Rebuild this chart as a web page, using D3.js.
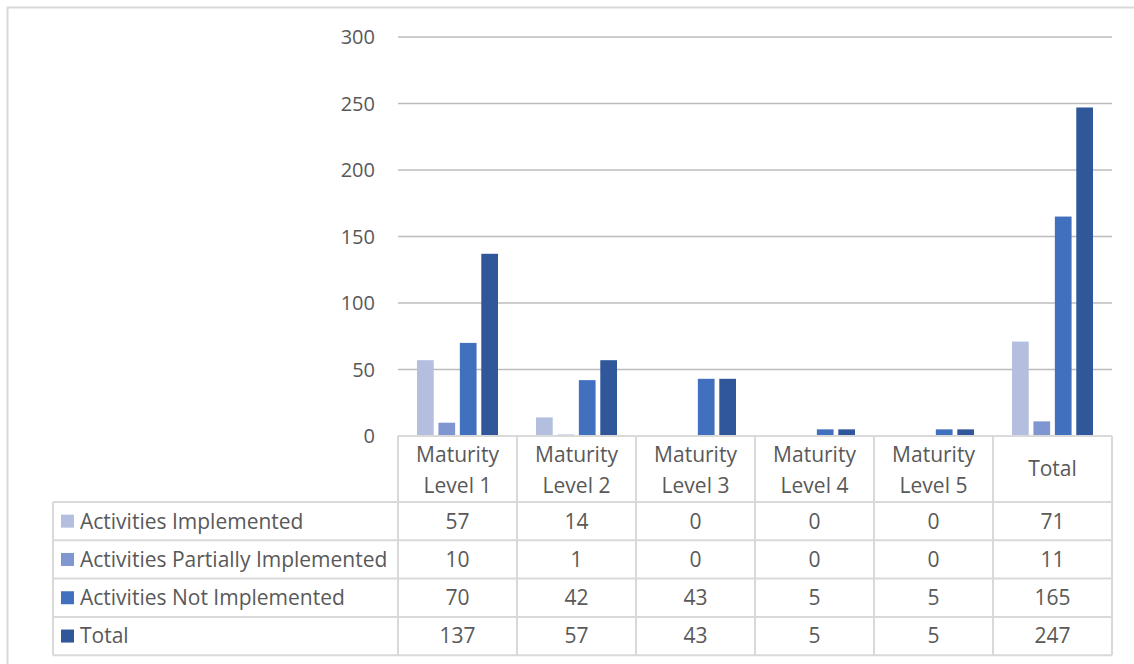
<!DOCTYPE html>
<html>
<head>
<meta charset="utf-8">
<script src="https://cdn.jsdelivr.net/npm/d3@7"></script>
<style>
  body { margin: 0; background: #fff; }
  text { font-family: "Open Sans", sans-serif; fill: #595959; }
</style>
</head>
<body>
<script>
const width = 1134;
const height = 664;

const categories = ['Maturity Level 1', 'Maturity Level 2', 'Maturity Level 3', 'Maturity Level 4', 'Maturity Level 5', 'Total'];
const seriesNames = ['Activities Implemented', 'Activities Partially Implemented', 'Activities Not Implemented', 'Total'];
const implemented = [57, 14, 0, 0, 0, 71];
const partial = [10, 1, 0, 0, 0, 11];
const notImplemented = [70, 42, 43, 5, 5, 165];
const totals = [137, 57, 43, 5, 5, 247];
const yTicks = [0, 50, 100, 150, 200, 250, 300];
const colors = ['#b4bfe0', '#7f96d1', '#4170be', '#30579a'];

const series = [implemented, partial, notImplemented, totals];

const svg = d3.select('body').append('svg')
  .attr('width', width)
  .attr('height', height);

// outer chart border
svg.append('rect')
  .attr('x', 7.5).attr('y', 7.5)
  .attr('width', width).attr('height', height)
  .style('fill', 'none')
  .style('stroke', '#d9d9d9')
  .style('stroke-width', 2);

const plotLeft = 398, plotRight = 1112, plotTop = 37, plotBottom = 436;

const x = d3.scaleBand().domain(categories).range([plotLeft, plotRight]);
const x1 = d3.scaleBand().domain(d3.range(4)).range([19, x.bandwidth() - 19]).paddingInner(0.22);
const y = d3.scaleLinear().domain([0, 300]).range([plotBottom, plotTop]);

// gridlines
svg.append('g')
  .selectAll('line')
  .data(yTicks.filter(d => d > 0))
  .enter().append('line')
    .attr('x1', plotLeft).attr('x2', plotRight)
    .attr('y1', d => y(d)).attr('y2', d => y(d))
    .style('stroke', '#bcbcbc')
    .style('stroke-width', 1.3);

// y labels
svg.append('g')
  .selectAll('text')
  .data(yTicks)
  .enter().append('text')
    .attr('x', 375)
    .attr('y', d => y(d))
    .attr('dy', '0.35em')
    .attr('text-anchor', 'end')
    .style('font-size', '20px')
    .text(d => d);

// bars
const groups = svg.append('g')
  .selectAll('g')
  .data(categories)
  .enter().append('g')
    .attr('transform', d => `translate(${x(d)},0)`);

groups.selectAll('rect')
  .data((d, i) => series.map((s, k) => ({ k, v: s[i] })))
  .enter().append('rect')
    .attr('x', d => x1(d.k))
    .attr('width', x1.bandwidth())
    .attr('y', d => y(d.v))
    .attr('height', d => plotBottom - y(d.v))
    .style('fill', d => colors[d.k]);

// data table
const tableLeft = 53;
const headerBottom = 502;
const rowH = 38.3;
const tableBottom = headerBottom + rowH * 4;
const lineColor = '#d9d9d9';

const table = svg.append('g')
  .style('stroke', lineColor)
  .style('stroke-width', 2);

// vertical lines in the category columns
categories.concat(['end']).forEach((c, i) => {
  const xx = plotLeft + i * x.bandwidth();
  table.append('line')
    .attr('x1', xx).attr('x2', xx)
    .attr('y1', plotBottom).attr('y2', tableBottom);
});
table.append('line')
  .attr('x1', tableLeft).attr('x2', tableLeft)
  .attr('y1', headerBottom).attr('y2', tableBottom);

// horizontal lines
table.append('line')
  .attr('x1', plotLeft).attr('x2', plotRight)
  .attr('y1', plotBottom).attr('y2', plotBottom);
d3.range(5).forEach(r => {
  const yy = headerBottom + r * rowH;
  table.append('line')
    .attr('x1', tableLeft).attr('x2', plotRight)
    .attr('y1', yy).attr('y2', yy);
});

// header labels
const header = svg.append('g')
  .selectAll('text')
  .data(categories)
  .enter().append('text')
    .attr('x', d => x(d) + x.bandwidth() / 2)
    .attr('text-anchor', 'middle')
    .style('font-size', '21px');

header.each(function(d) {
  const t = d3.select(this);
  const words = d.startsWith('Maturity') ? ['Maturity', d.replace('Maturity ', '')] : [d];
  if (words.length === 1) {
    t.append('tspan').attr('x', x(d) + x.bandwidth() / 2).attr('y', 469).attr('dy', '0.35em').text(words[0]);
  } else {
    t.append('tspan').attr('x', x(d) + x.bandwidth() / 2).attr('y', 455).attr('dy', '0.35em').text(words[0]);
    t.append('tspan').attr('x', x(d) + x.bandwidth() / 2).attr('y', 486).attr('dy', '0.35em').text(words[1]);
  }
});

// rows
seriesNames.forEach((name, r) => {
  const cy = headerBottom + r * rowH + rowH / 2;
  svg.append('rect')
    .attr('x', 61).attr('y', cy - 6.5)
    .attr('width', 13).attr('height', 13)
    .style('fill', colors[r]);
  svg.append('text')
    .attr('x', 80).attr('y', cy)
    .attr('dy', '0.35em')
    .style('font-size', '21px')
    .text(name);
  svg.append('g')
    .selectAll('text')
    .data(series[r])
    .enter().append('text')
      .attr('x', (d, i) => x(categories[i]) + x.bandwidth() / 2)
      .attr('y', cy)
      .attr('dy', '0.35em')
      .attr('text-anchor', 'middle')
      .style('font-size', '21px')
      .text(d => d);
});
</script>
</body>
</html>
